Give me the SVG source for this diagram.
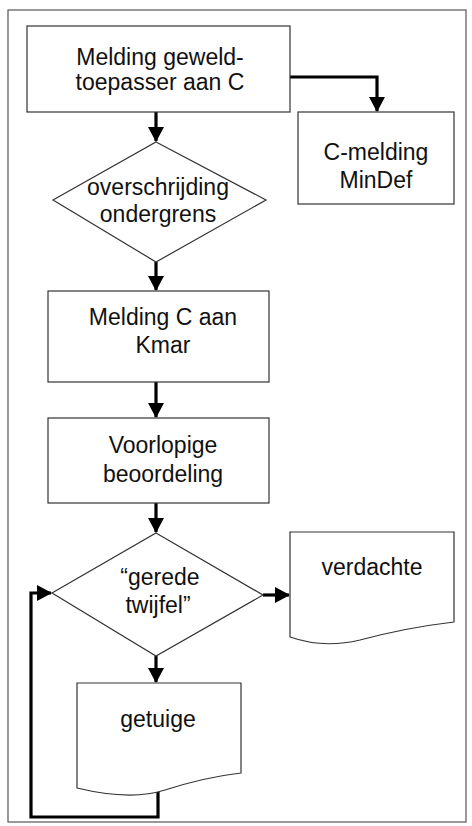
<svg xmlns="http://www.w3.org/2000/svg" width="472" height="826" viewBox="0 0 472 826">
<style>
.box{fill:#fff;stroke:#333;stroke-width:1.2}
.con{fill:none;stroke:#000;stroke-width:3.2}
.t{font-family:"Liberation Sans",Arial,sans-serif;font-size:23px;fill:#111;text-anchor:middle}
</style>
<defs>
<marker id="ah" markerUnits="userSpaceOnUse" markerWidth="15" markerHeight="16" refX="14" refY="8" orient="auto" viewBox="0 0 15 16">
<path d="M0,0 L15,8 L0,16 z" fill="#000"/>
</marker>
</defs>
<rect width="472" height="826" fill="#fff"/>
<rect x="8" y="10" width="458" height="812" fill="none" stroke="#555" stroke-width="1.2"/>
<g id="connectors">
<path class="con" d="M156,112 V141" marker-end="url(#ah)"/>
<path class="con" d="M290,77 H377 V111" marker-end="url(#ah)"/>
<path class="con" d="M156,262 V290" marker-end="url(#ah)"/>
<path class="con" d="M156,382 V417" marker-end="url(#ah)"/>
<path class="con" d="M156,503 V532" marker-end="url(#ah)"/>
<path class="con" d="M263,595 H289" marker-end="url(#ah)"/>
<path class="con" d="M156,656 V682" marker-end="url(#ah)"/>
<path class="con" d="M158,792 V817 H31 V593 H51" marker-end="url(#ah)"/>
</g>
<g id="n1">
<rect class="box" x="27" y="26" width="263" height="86"/>
<text class="t" x="160" y="65">Melding geweld-</text>
<text class="t" x="160" y="90">toepasser aan C</text>
</g>
<g id="n2">
<rect class="box" x="298" y="112" width="156" height="92"/>
<text class="t" x="376" y="160">C-melding</text>
<text class="t" x="376" y="188">MinDef</text>
</g>
<g id="n3">
<polygon class="box" points="156,142 266,200 156,262 53,200"/>
<text class="t" x="158" y="195">overschrijding</text>
<text class="t" x="158" y="222">ondergrens</text>
</g>
<g id="n4">
<rect class="box" x="48" y="291" width="221" height="91"/>
<text class="t" x="163" y="325">Melding C aan</text>
<text class="t" x="163" y="353">Kmar</text>
</g>
<g id="n5">
<rect class="box" x="48" y="418" width="221" height="85"/>
<text class="t" x="163" y="453">Voorlopige</text>
<text class="t" x="163" y="482">beoordeling</text>
</g>
<g id="n6">
<polygon class="box" points="156,533 263,595 156,656 52,593"/>
<text class="t" x="160" y="585">“gerede</text>
<text class="t" x="158" y="613">twijfel”</text>
</g>
<g id="n7">
<path class="box" d="M290,532 H454 V622 C420,626 390,632 360,640 C335,646 310,644 290,637 Z"/>
<text class="t" x="372" y="575">verdachte</text>
</g>
<g id="n8">
<path class="box" d="M77,683 H241 V773 C215,776 190,782 165,790 C140,798 110,796 77,788 Z"/>
<text class="t" x="158" y="727">getuige</text>
</g>
</svg>
